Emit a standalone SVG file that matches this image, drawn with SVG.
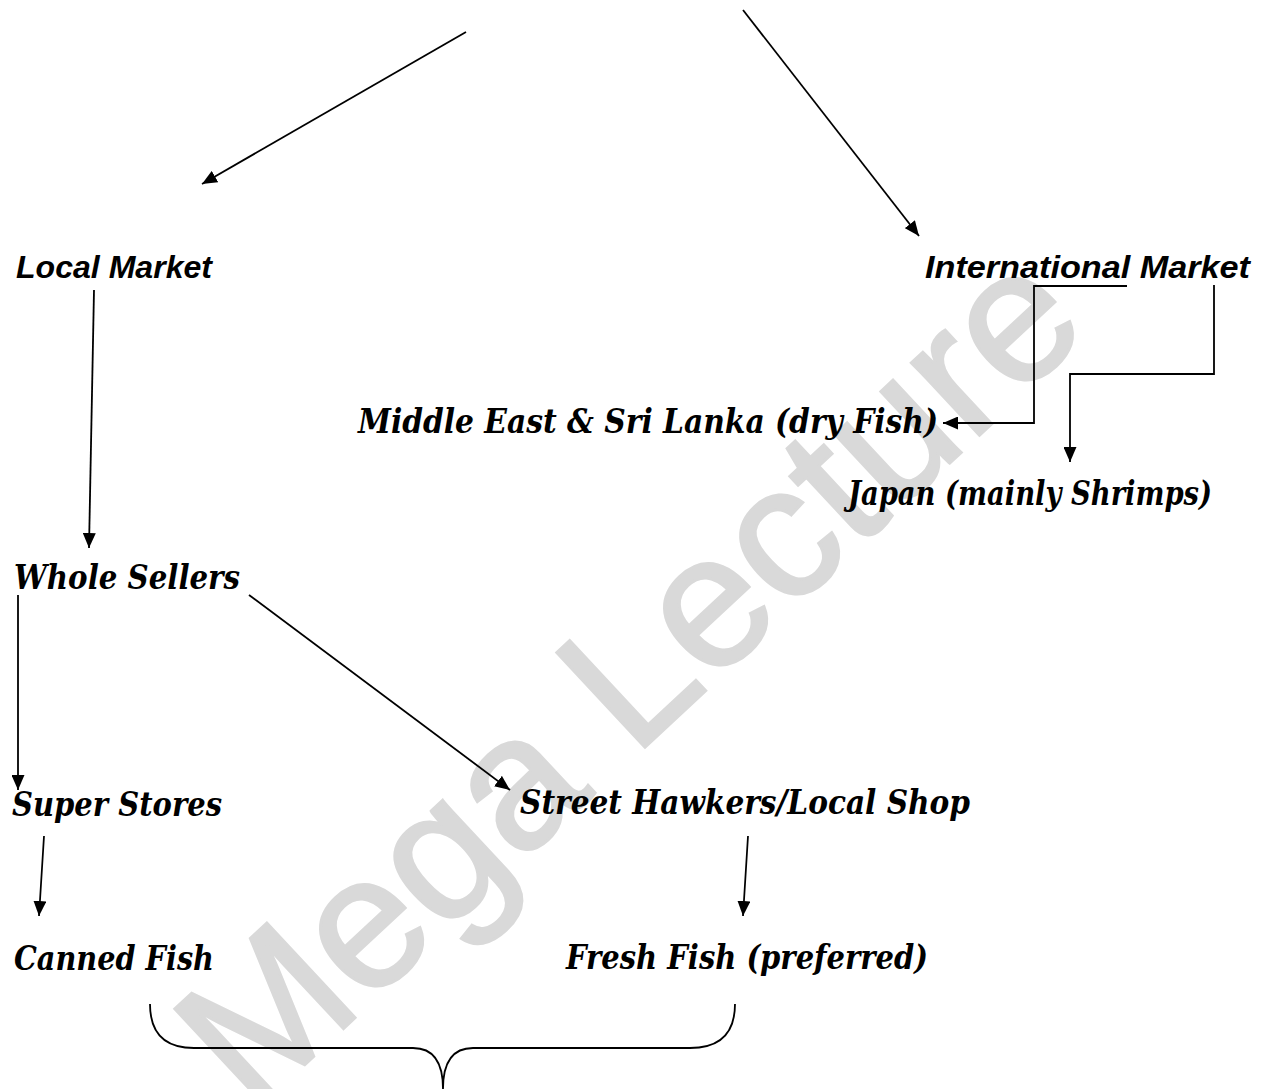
<svg xmlns="http://www.w3.org/2000/svg" width="1261" height="1089" viewBox="0 0 1261 1089">
<style>
.sans{font-family:"Liberation Sans",Arial,sans-serif;font-weight:bold;font-style:italic;font-size:32px;fill:#000}
.serif{font-family:"DejaVu Serif","Liberation Serif",serif;font-weight:bold;font-style:italic;font-size:33px;fill:#000}
.wm{font-family:"Liberation Sans",Arial,sans-serif;font-size:188px;fill:#d9d9d9;stroke:#d9d9d9;stroke-width:3}
.c{fill:none;stroke:#000;stroke-width:1.8}
</style>
<defs>
<marker id="ah" markerUnits="userSpaceOnUse" markerWidth="15" markerHeight="13" refX="15" refY="6.5" orient="auto">
<path d="M0,0 L15,6.5 L0,13 z" fill="#000"/>
</marker>
</defs>
<rect width="1261" height="1089" fill="#fff"/>
<text class="wm" x="0" y="0" text-anchor="middle" transform="translate(672,722) rotate(-43)">Mega Lecture</text>
<g id="connectors">
<line class="c" x1="466" y1="32" x2="202" y2="184" marker-end="url(#ah)"/>
<line class="c" x1="743" y1="10" x2="919" y2="236" marker-end="url(#ah)"/>
<line class="c" x1="94" y1="290" x2="89" y2="548" marker-end="url(#ah)"/>
<polyline class="c" points="1127,286 1034,286 1034,423 943,423" marker-end="url(#ah)"/>
<polyline class="c" points="1214,285 1214,374 1070,374 1070,462" marker-end="url(#ah)"/>
<line class="c" x1="18" y1="595" x2="18" y2="790" marker-end="url(#ah)"/>
<line class="c" x1="249" y1="595" x2="510" y2="790" marker-end="url(#ah)"/>
<line class="c" x1="44" y1="836" x2="39" y2="916" marker-end="url(#ah)"/>
<line class="c" x1="748" y1="836" x2="743" y2="916" marker-end="url(#ah)"/>
<path class="c" d="M150,1004 Q150,1048 194,1048 L413,1048 Q443,1048 443,1089 Q443,1048 473,1048 L690,1048 Q735,1048 735,1004"/>
</g>
<g id="local-market"><text class="sans" x="16" y="278" textLength="196" lengthAdjust="spacingAndGlyphs">Local Market</text></g>
<g id="international-market"><text class="sans" x="925" y="278" textLength="325" lengthAdjust="spacingAndGlyphs">International Market</text></g>
<g id="middle-east"><text class="serif" x="358" y="433" textLength="580" lengthAdjust="spacingAndGlyphs">Middle East &amp; Sri Lanka (dry Fish)</text></g>
<g id="japan"><text class="serif" x="848" y="505" textLength="364" lengthAdjust="spacingAndGlyphs">Japan (mainly Shrimps)</text></g>
<g id="whole-sellers"><text class="serif" x="14" y="589" textLength="226" lengthAdjust="spacingAndGlyphs">Whole Sellers</text></g>
<g id="super-stores"><text class="serif" x="12" y="816" textLength="210" lengthAdjust="spacingAndGlyphs">Super Stores</text></g>
<g id="street-hawkers"><text class="serif" x="520" y="814" textLength="450" lengthAdjust="spacingAndGlyphs">Street Hawkers/Local Shop</text></g>
<g id="canned-fish"><text class="serif" x="14" y="970" textLength="200" lengthAdjust="spacingAndGlyphs">Canned Fish</text></g>
<g id="fresh-fish"><text class="serif" x="566" y="969" textLength="362" lengthAdjust="spacingAndGlyphs">Fresh Fish (preferred)</text></g>
</svg>
